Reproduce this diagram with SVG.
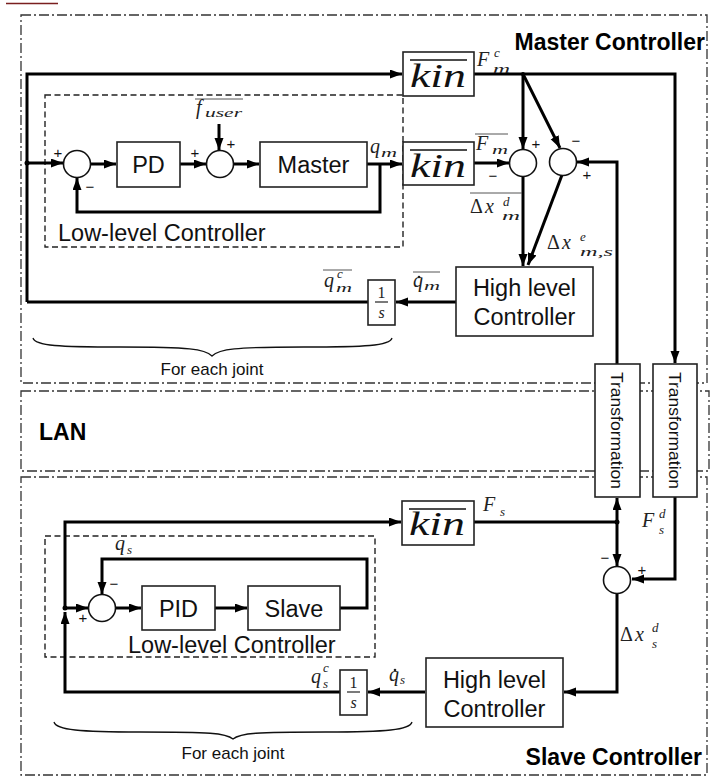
<svg xmlns="http://www.w3.org/2000/svg" width="710" height="778" viewBox="0 0 710 778">
<style>
.region{fill:none;stroke:#333;stroke-width:1.3;stroke-dasharray:10,3,2,3}
.ll{fill:none;stroke:#222;stroke-width:1.4;stroke-dasharray:6,3.5}
.box{fill:#fff;stroke:#222;stroke-width:1.6}
.sum{fill:#fff;stroke:#111;stroke-width:1.6}
.w{fill:none;stroke:#000;stroke-width:3}
.thin{fill:none;stroke:#111;stroke-width:1.3}
.bl{font-family:"Liberation Sans",Arial,sans-serif;font-size:23.5px;fill:#111}
.tt{font-family:"Liberation Sans",Arial,sans-serif;font-size:17px;fill:#111}
.hd{font-family:"Liberation Sans",Arial,sans-serif;font-size:23px;font-weight:bold;fill:#000}
.sg{font-family:"Liberation Sans",Arial,sans-serif;font-size:15px;fill:#111;text-anchor:middle}
.m{font-family:"Liberation Serif","Times New Roman",serif;font-style:italic;font-size:20px;fill:#222}
.ms{font-family:"Liberation Serif","Times New Roman",serif;font-style:italic;font-size:13px;fill:#222}
.mu{font-family:"Liberation Serif","Times New Roman",serif;font-size:20px;fill:#222}
.fr{font-family:"Liberation Serif","Times New Roman",serif;font-size:16px;fill:#222;text-anchor:middle}
.kin{font-family:"Liberation Serif","Times New Roman",serif;font-style:italic;font-size:34px;fill:#111}
.ol{stroke:#555;stroke-width:1}
.dot{fill:#000}
.md{fill:#222}
</style>
<defs>
<marker id="ah" markerWidth="13" markerHeight="10" refX="12" refY="4.5" orient="auto" markerUnits="userSpaceOnUse">
<path d="M0,0 L12,4.5 L0,9 z" fill="#000"/>
</marker>
</defs>

<line x1="6" y1="3.5" x2="58" y2="3.5" stroke="#7a1f1f" stroke-width="1.5"/>

<g id="regions">
<rect class="region" x="21" y="15" width="686" height="368"/>
<rect class="region" x="21" y="391" width="688" height="80"/>
<rect class="region" x="21" y="477" width="686" height="298"/>
<text class="hd" x="705" y="50" text-anchor="end">Master Controller</text>
<text class="hd" x="39" y="440">LAN</text>
<text class="hd" x="702" y="765" text-anchor="end">Slave Controller</text>
</g>

<g id="lowlevel-master">
<rect class="ll" x="45" y="95" width="358" height="152"/>
<text class="bl" x="58" y="241">Low-level Controller</text>
</g>
<g id="lowlevel-slave">
<rect class="ll" x="45" y="536" width="330" height="121"/>
<text class="bl" x="128" y="653">Low-level Controller</text>
</g>

<g id="connectors">
<path class="w" d="M27,302 V74 H402" marker-end="url(#ah)"/>
<path class="w" d="M27,163 H63" marker-end="url(#ah)"/>
<path class="w" d="M91,164 H116" marker-end="url(#ah)"/>
<path class="w" d="M180,164 H206" marker-end="url(#ah)"/>
<path class="w" d="M219,124 V150" marker-end="url(#ah)"/>
<path class="w" d="M233,164 H259" marker-end="url(#ah)"/>
<path class="w" d="M367,164 H402" marker-end="url(#ah)"/>
<path class="w" d="M380,164 V212 H77 V178" marker-end="url(#ah)"/>
<path class="w" d="M474,74 H675 V363" marker-end="url(#ah)"/>
<path class="w" d="M523,74 V149" marker-end="url(#ah)"/>
<path class="w" d="M523,74 L560,148" marker-end="url(#ah)"/>
<path class="w" d="M474,163 H509" marker-end="url(#ah)"/>
<path class="w" d="M617,364 V162 H577" marker-end="url(#ah)"/>
<path class="w" d="M523,177 V266" marker-end="url(#ah)"/>
<path class="w" d="M562,175 L528,265" marker-end="url(#ah)"/>
<path class="w" d="M456,302 H396" marker-end="url(#ah)"/>
<path class="w" d="M368,302 H27"/>
<path class="w" d="M65,608 V522 H401" marker-end="url(#ah)"/>
<path class="w" d="M340,692 H65 V612" marker-end="url(#ah)"/>
<path class="w" d="M65,608 H88" marker-end="url(#ah)"/>
<path class="w" d="M115,608 H141" marker-end="url(#ah)"/>
<path class="w" d="M215,608 H247" marker-end="url(#ah)"/>
<path class="w" d="M340,608 H367 V559 H102 V594" marker-end="url(#ah)"/>
<path class="w" d="M474,522 H617"/>
<path class="w" d="M617,522 V498" marker-end="url(#ah)"/>
<path class="w" d="M617,522 V566" marker-end="url(#ah)"/>
<path class="w" d="M675,497 V579 H632" marker-end="url(#ah)"/>
<path class="w" d="M617,594 V692 H564" marker-end="url(#ah)"/>
<path class="w" d="M425,692 H368" marker-end="url(#ah)"/>
<circle class="dot" cx="27" cy="163" r="2.5"/>
<circle class="dot" cx="523" cy="74" r="2"/>
<circle class="dot" cx="65" cy="608" r="2.5"/>
<circle class="dot" cx="617" cy="522" r="2.5"/>
</g>

<g id="sum1"><circle class="sum" cx="77" cy="164" r="13.5"/>
<text class="sg" x="58" y="158">+</text><text class="sg" x="90" y="192">−</text></g>
<g id="pd"><rect class="box" x="117" y="142" width="63" height="45"/><text class="bl" x="148.5" y="173" text-anchor="middle">PD</text></g>
<g id="sum2"><circle class="sum" cx="220" cy="164" r="13.5"/>
<text class="sg" x="195" y="158">+</text><text class="sg" x="231" y="149">+</text></g>
<g id="fuser">
<line class="ol" x1="195" y1="99" x2="243" y2="99"/>
<text class="m" x="196" y="114">f</text><text class="ms" x="205" y="117" textLength="37" lengthAdjust="spacingAndGlyphs">user</text>
</g>
<g id="master"><rect class="box" x="260" y="142" width="107" height="45"/><text class="bl" x="313.5" y="173" text-anchor="middle">Master</text></g>
<g id="qm"><text class="m" x="370" y="153">q</text><text class="ms" x="381" y="157" textLength="16" lengthAdjust="spacingAndGlyphs">m</text></g>

<g id="kin1"><rect class="box" x="403" y="52" width="71" height="44"/>
<line class="thin" x1="410" y1="60" x2="467" y2="60"/>
<text class="kin" x="410" y="87" textLength="56" lengthAdjust="spacingAndGlyphs">kin</text></g>
<g id="Fmc"><text class="m" x="477" y="66">F</text><text class="ms" x="494" y="57">c</text><text class="ms" x="493" y="73" textLength="17" lengthAdjust="spacingAndGlyphs">m</text></g>

<g id="kin2"><rect class="box" x="403" y="142" width="71" height="43"/>
<line class="thin" x1="410" y1="150" x2="467" y2="150"/>
<text class="kin" x="410" y="177" textLength="56" lengthAdjust="spacingAndGlyphs">kin</text></g>
<g id="Fm"><line class="ol" x1="475" y1="134" x2="508" y2="134"/>
<text class="m" x="476" y="150">F</text><text class="ms" x="492" y="154" textLength="16" lengthAdjust="spacingAndGlyphs">m</text></g>

<g id="sum3"><circle class="sum" cx="523" cy="163" r="13.5"/>
<text class="sg" x="536" y="149">+</text><text class="sg" x="493" y="181">−</text></g>
<g id="sum4"><circle class="sum" cx="563" cy="162" r="13.5"/>
<text class="sg" x="576" y="146">−</text><text class="sg" x="587" y="180">+</text></g>
<g id="dxmd"><line class="ol" x1="470" y1="193" x2="522" y2="193"/>
<text class="mu" x="470" y="213">Δ</text><text class="m" x="485" y="213">x</text><text class="ms" x="503" y="206">d</text><text class="ms" x="502" y="220" textLength="18" lengthAdjust="spacingAndGlyphs">m</text></g>
<g id="dxmse"><text class="mu" x="547" y="249">Δ</text><text class="m" x="562" y="249">x</text><text class="ms" x="580" y="241">e</text><text class="ms" x="580" y="256" textLength="33" lengthAdjust="spacingAndGlyphs">m,s</text></g>

<g id="hlc-master"><rect class="box" x="456" y="267" width="137" height="69"/>
<text class="bl" x="524.5" y="296" text-anchor="middle">High level</text><text class="bl" x="524.5" y="325" text-anchor="middle">Controller</text></g>
<g id="qmdot"><line class="ol" x1="413" y1="272" x2="440" y2="272"/>
<text class="m" x="413" y="287">q</text><circle class="md" cx="419" cy="277" r="1.3"/>
<text class="ms" x="424" y="290" textLength="16" lengthAdjust="spacingAndGlyphs">m</text></g>
<g id="int-master"><rect class="box" x="368" y="280" width="27" height="45"/>
<text class="fr" x="381.5" y="298">1</text>
<line x1="375" y1="302" x2="388" y2="302" stroke="#222" stroke-width="1.2"/>
<text class="fr" x="381.5" y="318" font-style="italic">s</text></g>
<g id="qmc"><line class="ol" x1="323" y1="270" x2="352" y2="270"/>
<text class="m" x="324" y="287">q</text><text class="ms" x="337" y="278">c</text><text class="ms" x="336" y="292" textLength="16" lengthAdjust="spacingAndGlyphs">m</text></g>

<g id="brace-master"><path class="thin" d="M33,338 C35,346 60,347 120,347 C190,347 205,349 212,356 C219,349 234,347 304,347 C364,347 390,346 392,338"/>
<text class="tt" x="212" y="375" text-anchor="middle">For each joint</text></g>

<g id="trans1"><rect class="box" x="595" y="364" width="45" height="133"/>
<text class="tt" transform="translate(611,372) rotate(90)" textLength="117" lengthAdjust="spacingAndGlyphs">Transformation</text></g>
<g id="trans2"><rect class="box" x="653" y="364" width="44" height="133"/>
<text class="tt" transform="translate(669,372) rotate(90)" textLength="117" lengthAdjust="spacingAndGlyphs">Transformation</text></g>

<g id="sum5"><circle class="sum" cx="102" cy="608" r="13.5"/>
<text class="sg" x="83" y="623">+</text><text class="sg" x="114" y="589">−</text></g>
<g id="qs"><text class="m" x="115" y="550">q</text><text class="ms" x="127" y="554">s</text></g>
<g id="pid"><rect class="box" x="142" y="586" width="73" height="44"/><text class="bl" x="178.5" y="617" text-anchor="middle">PID</text></g>
<g id="slave"><rect class="box" x="248" y="586" width="92" height="44"/><text class="bl" x="294" y="617" text-anchor="middle">Slave</text></g>
<g id="kin3"><rect class="box" x="402" y="501" width="72" height="44"/>
<line class="thin" x1="409" y1="509" x2="466" y2="509"/>
<text class="kin" x="409" y="535" textLength="56" lengthAdjust="spacingAndGlyphs">kin</text></g>
<g id="Fs"><text class="m" x="483" y="511">F</text><text class="ms" x="500" y="516">s</text></g>
<g id="sum6"><circle class="sum" cx="617" cy="580" r="13.5"/>
<text class="sg" x="605" y="563">−</text><text class="sg" x="642" y="575">+</text></g>
<g id="Fsd"><text class="m" x="642" y="527">F</text><text class="ms" x="659" y="518">d</text><text class="ms" x="659" y="534">s</text></g>
<g id="dxsd"><text class="mu" x="620" y="641">Δ</text><text class="m" x="635" y="641">x</text><text class="ms" x="652" y="632">d</text><text class="ms" x="652" y="648">s</text></g>
<g id="hlc-slave"><rect class="box" x="426" y="658" width="137" height="69"/>
<text class="bl" x="494.5" y="688" text-anchor="middle">High level</text><text class="bl" x="494.5" y="717" text-anchor="middle">Controller</text></g>
<g id="qsdot"><text class="m" x="389" y="681">q</text><circle class="md" cx="395" cy="670" r="1.3"/><text class="ms" x="400" y="684">s</text></g>
<g id="int-slave"><rect class="box" x="340" y="670" width="27" height="45"/>
<text class="fr" x="353.5" y="688">1</text>
<line x1="347" y1="692" x2="360" y2="692" stroke="#222" stroke-width="1.2"/>
<text class="fr" x="353.5" y="708" font-style="italic">s</text></g>
<g id="qsc"><text class="m" x="311" y="683">q</text><text class="ms" x="323" y="672">c</text><text class="ms" x="323" y="688">s</text></g>

<g id="brace-slave"><path class="thin" d="M54,722 C56,730 80,732 140,732 C210,732 226,733 233,739 C240,733 256,732 326,732 C386,732 410,730 412,722"/>
<text class="tt" x="233" y="759" text-anchor="middle">For each joint</text></g>
</svg>
